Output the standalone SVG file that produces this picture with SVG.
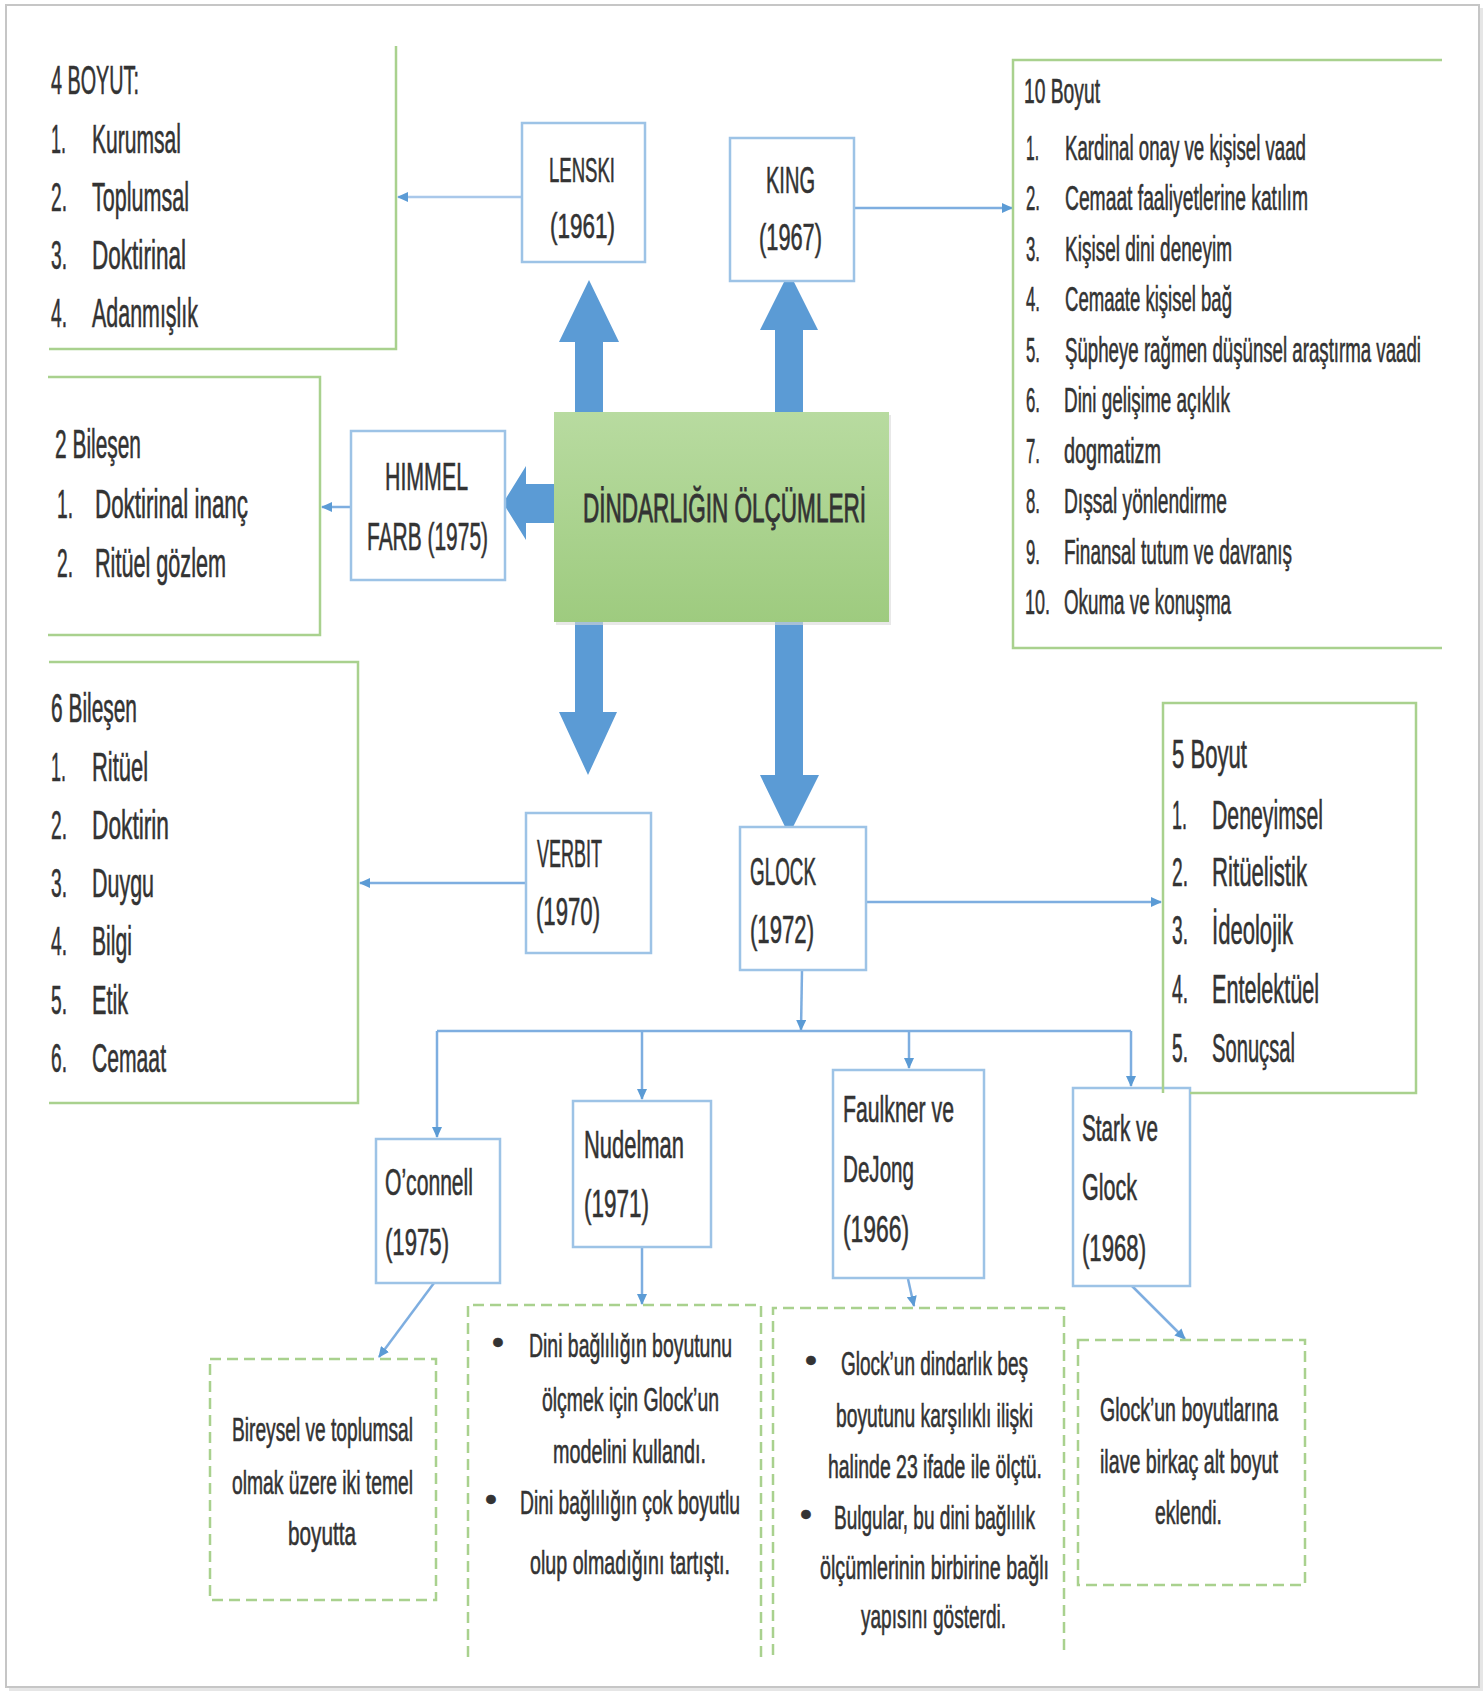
<svg xmlns="http://www.w3.org/2000/svg" width="1484" height="1692" viewBox="0 0 1484 1692">
<defs>
<style>
.tx{font-family:"Liberation Sans",Arial,sans-serif;fill:#333;stroke:#333;stroke-width:0.6}
.f41{font-size:41px}.f40{font-size:40px}.f38{font-size:38px}.f37{font-size:37px}.f36{font-size:36px}.f35{font-size:35px}.f34{font-size:34px}
.node{fill:#fff;stroke:#9dc3e6;stroke-width:2.5}
.open{fill:none;stroke:#a9d18e;stroke-width:2.5}
.dash{fill:none;stroke:#a9d18e;stroke-width:2.5;stroke-dasharray:11 6}
.conn{fill:none;stroke:#7eaee0;stroke-width:2.5;marker-end:url(#ah)}
.block{fill:#5b9bd5}
</style>
<marker id="ah" markerUnits="userSpaceOnUse" markerWidth="12" markerHeight="10" refX="10" refY="5" orient="auto">
<path d="M0,0 L11,5 L0,10 z" fill="#5b9bd5"/>
</marker>
<linearGradient id="gr" x1="0" y1="0" x2="0" y2="1">
<stop offset="0" stop-color="#b8dba0"/>
<stop offset="1" stop-color="#9ecb7f"/>
</linearGradient>
</defs>

<!-- page -->
<rect width="1484" height="1692" fill="#fff"/>
<rect x="9" y="8" width="1474" height="1683" fill="#e6e6e6"/>
<rect x="6" y="5" width="1473" height="1682" fill="#fff" stroke="#c6c6c6" stroke-width="2"/>

<!-- thick block arrows from the central box -->
<g id="block-arrows">
<polygon class="block" points="589,280 619,342 603,342 603,414 575,414 575,342 559,342"/>
<polygon class="block" points="789,272 818,330 803,330 803,414 775,414 775,330 760,330"/>
<polygon class="block" points="503,503 526,466 526,484 556,484 556,523 526,523 526,540"/>
<polygon class="block" points="588,775 617,712 603,712 603,619 575,619 575,712 559,712"/>
<polygon class="block" points="789,835 819,775 803,775 803,619 775,619 775,775 760,775"/>
</g>

<!-- connectors -->
<g id="connectors">
<line class="conn" x1="522" y1="197" x2="398" y2="197" stroke-width="3.5" style="stroke:#a9c8ea"/>
<line class="conn" x1="854" y1="208" x2="1012" y2="208"/>
<line class="conn" x1="351" y1="507" x2="322" y2="507"/>
<line class="conn" x1="526" y1="883" x2="360" y2="883"/>
<line class="conn" x1="866" y1="902" x2="1161" y2="902"/>
<line class="conn" x1="802" y1="970" x2="801" y2="1030"/>
<line fill="none" stroke="#7eaee0" stroke-width="2.5" x1="437" y1="1031" x2="1131" y2="1031"/>
<line class="conn" x1="437" y1="1031" x2="437" y2="1137"/>
<line class="conn" x1="642" y1="1031" x2="642" y2="1099"/>
<line class="conn" x1="909" y1="1031" x2="909" y2="1068"/>
<line class="conn" x1="1131" y1="1031" x2="1131" y2="1086"/>
<line class="conn" x1="434" y1="1283" x2="379" y2="1357"/>
<line class="conn" x1="642" y1="1247" x2="642" y2="1304"/>
<line class="conn" x1="908" y1="1279" x2="914" y2="1306"/>
<line class="conn" x1="1132" y1="1286" x2="1185" y2="1339"/>
</g>

<!-- central node -->
<g id="dindarlik">
<rect x="556" y="415" width="335" height="210" fill="#d9d9d9" opacity="0.6"/>
<rect x="554" y="412" width="335" height="210" fill="url(#gr)"/>
<text class="tx f40" x="583" y="522" textLength="283" lengthAdjust="spacingAndGlyphs" style="stroke-width:0.9">DİNDARLIĞIN ÖLÇÜMLERİ</text>
</g>

<!-- 4 BOYUT -->
<g id="boyut4" class="tx f41">
<path class="open" d="M49,349 H396 V46"/>
<text x="51" y="94" textLength="88" lengthAdjust="spacingAndGlyphs">4 BOYUT:</text>
<text y="153"><tspan x="51" textLength="15" lengthAdjust="spacingAndGlyphs">1.</tspan><tspan x="92" textLength="89" lengthAdjust="spacingAndGlyphs">Kurumsal</tspan></text>
<text y="211"><tspan x="51" textLength="16" lengthAdjust="spacingAndGlyphs">2.</tspan><tspan x="92" textLength="97" lengthAdjust="spacingAndGlyphs">Toplumsal</tspan></text>
<text y="269"><tspan x="51" textLength="16" lengthAdjust="spacingAndGlyphs">3.</tspan><tspan x="92" textLength="94" lengthAdjust="spacingAndGlyphs">Doktirinal</tspan></text>
<text y="327"><tspan x="51" textLength="16" lengthAdjust="spacingAndGlyphs">4.</tspan><tspan x="92" textLength="106" lengthAdjust="spacingAndGlyphs">Adanmışlık</tspan></text>
</g>

<!-- LENSKI -->
<g id="lenski" class="tx f35">
<rect class="node" x="522" y="123" width="123" height="139"/>
<text x="549" y="182" textLength="66" lengthAdjust="spacingAndGlyphs">LENSKI</text>
<text x="550" y="238" textLength="65" lengthAdjust="spacingAndGlyphs">(1961)</text>
</g>

<!-- KING -->
<g id="king" class="tx f36">
<rect class="node" x="730" y="138" width="124" height="143"/>
<text x="766" y="193" textLength="49" lengthAdjust="spacingAndGlyphs">KING</text>
<text x="759" y="250" textLength="63" lengthAdjust="spacingAndGlyphs">(1967)</text>
</g>

<!-- 10 Boyut -->
<g id="boyut10" class="tx f35">
<path class="open" d="M1442,60 H1013 V648 H1442"/>
<text x="1024" y="103" textLength="76" lengthAdjust="spacingAndGlyphs">10 Boyut</text>
<text y="160"><tspan x="1026" textLength="13" lengthAdjust="spacingAndGlyphs">1.</tspan><tspan x="1065" textLength="241" lengthAdjust="spacingAndGlyphs">Kardinal onay ve kişisel vaad</tspan></text>
<text y="210"><tspan x="1026" textLength="14" lengthAdjust="spacingAndGlyphs">2.</tspan><tspan x="1065" textLength="243" lengthAdjust="spacingAndGlyphs">Cemaat faaliyetlerine katılım</tspan></text>
<text y="261"><tspan x="1026" textLength="14" lengthAdjust="spacingAndGlyphs">3.</tspan><tspan x="1065" textLength="167" lengthAdjust="spacingAndGlyphs">Kişisel dini deneyim</tspan></text>
<text y="311"><tspan x="1026" textLength="14" lengthAdjust="spacingAndGlyphs">4.</tspan><tspan x="1065" textLength="167" lengthAdjust="spacingAndGlyphs">Cemaate kişisel bağ</tspan></text>
<text y="362"><tspan x="1026" textLength="14" lengthAdjust="spacingAndGlyphs">5.</tspan><tspan x="1065" textLength="356" lengthAdjust="spacingAndGlyphs">Şüpheye rağmen düşünsel araştırma vaadi</tspan></text>
<text y="412"><tspan x="1026" textLength="14" lengthAdjust="spacingAndGlyphs">6.</tspan><tspan x="1064" textLength="166" lengthAdjust="spacingAndGlyphs">Dini gelişime açıklık</tspan></text>
<text y="463"><tspan x="1026" textLength="14" lengthAdjust="spacingAndGlyphs">7.</tspan><tspan x="1064" textLength="97" lengthAdjust="spacingAndGlyphs">dogmatizm</tspan></text>
<text y="513"><tspan x="1026" textLength="14" lengthAdjust="spacingAndGlyphs">8.</tspan><tspan x="1064" textLength="163" lengthAdjust="spacingAndGlyphs">Dışsal yönlendirme</tspan></text>
<text y="564"><tspan x="1026" textLength="14" lengthAdjust="spacingAndGlyphs">9.</tspan><tspan x="1064" textLength="228" lengthAdjust="spacingAndGlyphs">Finansal tutum ve davranış</tspan></text>
<text y="614"><tspan x="1025" textLength="25" lengthAdjust="spacingAndGlyphs">10.</tspan><tspan x="1064" textLength="167" lengthAdjust="spacingAndGlyphs">Okuma ve konuşma</tspan></text>
</g>

<!-- HIMMELFARB -->
<g id="himmelfarb" class="tx f38">
<rect class="node" x="351" y="431" width="154" height="149"/>
<text x="385" y="490" textLength="83" lengthAdjust="spacingAndGlyphs">HIMMEL</text>
<text x="367" y="550" textLength="121" lengthAdjust="spacingAndGlyphs">FARB (1975)</text>
</g>

<!-- 2 Bileşen -->
<g id="bilesen2" class="tx f40">
<path class="open" d="M48,377 H320 V635 H48"/>
<text x="55" y="458" textLength="86" lengthAdjust="spacingAndGlyphs">2 Bileşen</text>
<text y="518"><tspan x="57" textLength="16" lengthAdjust="spacingAndGlyphs">1.</tspan><tspan x="95" textLength="153" lengthAdjust="spacingAndGlyphs">Doktirinal inanç</tspan></text>
<text y="577"><tspan x="57" textLength="16" lengthAdjust="spacingAndGlyphs">2.</tspan><tspan x="95" textLength="131" lengthAdjust="spacingAndGlyphs">Ritüel gözlem</tspan></text>
</g>

<!-- 6 Bileşen -->
<g id="bilesen6" class="tx f40">
<path class="open" d="M49,662 H358 V1103 H49"/>
<text x="51" y="722" textLength="86" lengthAdjust="spacingAndGlyphs">6 Bileşen</text>
<text y="781"><tspan x="51" textLength="15" lengthAdjust="spacingAndGlyphs">1.</tspan><tspan x="92" textLength="56" lengthAdjust="spacingAndGlyphs">Ritüel</tspan></text>
<text y="839"><tspan x="51" textLength="16" lengthAdjust="spacingAndGlyphs">2.</tspan><tspan x="92" textLength="77" lengthAdjust="spacingAndGlyphs">Doktirin</tspan></text>
<text y="897"><tspan x="51" textLength="16" lengthAdjust="spacingAndGlyphs">3.</tspan><tspan x="92" textLength="62" lengthAdjust="spacingAndGlyphs">Duygu</tspan></text>
<text y="955"><tspan x="51" textLength="16" lengthAdjust="spacingAndGlyphs">4.</tspan><tspan x="92" textLength="40" lengthAdjust="spacingAndGlyphs">Bilgi</tspan></text>
<text y="1014"><tspan x="51" textLength="16" lengthAdjust="spacingAndGlyphs">5.</tspan><tspan x="92" textLength="36" lengthAdjust="spacingAndGlyphs">Etik</tspan></text>
<text y="1072"><tspan x="51" textLength="16" lengthAdjust="spacingAndGlyphs">6.</tspan><tspan x="92" textLength="74" lengthAdjust="spacingAndGlyphs">Cemaat</tspan></text>
</g>

<!-- VERBIT -->
<g id="verbit" class="tx f38">
<rect class="node" x="526" y="813" width="125" height="140"/>
<text x="537" y="867" textLength="65" lengthAdjust="spacingAndGlyphs">VERBIT</text>
<text x="536" y="925" textLength="64" lengthAdjust="spacingAndGlyphs">(1970)</text>
</g>

<!-- GLOCK -->
<g id="glock" class="tx f38">
<rect class="node" x="740" y="827" width="126" height="143"/>
<text x="750" y="885" textLength="66" lengthAdjust="spacingAndGlyphs">GLOCK</text>
<text x="750" y="943" textLength="64" lengthAdjust="spacingAndGlyphs">(1972)</text>
</g>

<!-- O'connell -->
<g id="oconnell" class="tx f37">
<rect class="node" x="376" y="1139" width="124" height="144"/>
<text x="385" y="1195" textLength="88" lengthAdjust="spacingAndGlyphs">O’connell</text>
<text x="385" y="1255" textLength="64" lengthAdjust="spacingAndGlyphs">(1975)</text>
</g>

<!-- Nudelman -->
<g id="nudelman" class="tx f38">
<rect class="node" x="573" y="1101" width="138" height="146"/>
<text x="584" y="1158" textLength="100" lengthAdjust="spacingAndGlyphs">Nudelman</text>
<text x="584" y="1217" textLength="65" lengthAdjust="spacingAndGlyphs">(1971)</text>
</g>

<!-- Faulkner ve DeJong -->
<g id="faulkner" class="tx f37">
<rect class="node" x="833" y="1070" width="151" height="208"/>
<text x="843" y="1122" textLength="111" lengthAdjust="spacingAndGlyphs">Faulkner ve</text>
<text x="843" y="1182" textLength="71" lengthAdjust="spacingAndGlyphs">DeJong</text>
<text x="843" y="1242" textLength="66" lengthAdjust="spacingAndGlyphs">(1966)</text>
</g>

<!-- Stark ve Glock -->
<g id="stark" class="tx f37">
<rect class="node" x="1073" y="1088" width="117" height="198"/>
<text x="1082" y="1141" textLength="76" lengthAdjust="spacingAndGlyphs">Stark ve</text>
<text x="1082" y="1200" textLength="55" lengthAdjust="spacingAndGlyphs">Glock</text>
<text x="1082" y="1261" textLength="64" lengthAdjust="spacingAndGlyphs">(1968)</text>
</g>

<!-- 5 Boyut -->
<g id="boyut5" class="tx f40">
<path class="open" d="M1163,1093 V703 H1416 V1093 H1190"/>
<text x="1172" y="768" textLength="75" lengthAdjust="spacingAndGlyphs">5 Boyut</text>
<text y="829"><tspan x="1172" textLength="15" lengthAdjust="spacingAndGlyphs">1.</tspan><tspan x="1212" textLength="111" lengthAdjust="spacingAndGlyphs">Deneyimsel</tspan></text>
<text y="886"><tspan x="1172" textLength="16" lengthAdjust="spacingAndGlyphs">2.</tspan><tspan x="1212" textLength="95" lengthAdjust="spacingAndGlyphs">Ritüelistik</tspan></text>
<text y="944"><tspan x="1172" textLength="16" lengthAdjust="spacingAndGlyphs">3.</tspan><tspan x="1212" textLength="81" lengthAdjust="spacingAndGlyphs">İdeolojik</tspan></text>
<text y="1003"><tspan x="1172" textLength="16" lengthAdjust="spacingAndGlyphs">4.</tspan><tspan x="1212" textLength="107" lengthAdjust="spacingAndGlyphs">Entelektüel</tspan></text>
<text y="1062"><tspan x="1172" textLength="16" lengthAdjust="spacingAndGlyphs">5.</tspan><tspan x="1212" textLength="83" lengthAdjust="spacingAndGlyphs">Sonuçsal</tspan></text>
</g>

<!-- note: O'connell -->
<g id="note-oconnell" class="tx f34">
<rect class="dash" x="210" y="1359" width="226" height="241"/>
<text x="232" y="1441" textLength="181" lengthAdjust="spacingAndGlyphs">Bireysel ve toplumsal</text>
<text x="232" y="1494" textLength="181" lengthAdjust="spacingAndGlyphs">olmak üzere iki temel</text>
<text x="288" y="1545" textLength="68" lengthAdjust="spacingAndGlyphs">boyutta</text>
</g>

<!-- note: Nudelman -->
<g id="note-nudelman" class="tx f34">
<path class="dash" d="M468,1657 V1305 H761 V1657"/>
<text y="1357"><tspan x="492" dy="-3">•</tspan><tspan x="529" dy="3" textLength="203" lengthAdjust="spacingAndGlyphs">Dini bağlılığın boyutunu</tspan></text>
<text x="542" y="1411" textLength="177" lengthAdjust="spacingAndGlyphs">ölçmek için Glock’un</text>
<text x="553" y="1463" textLength="153" lengthAdjust="spacingAndGlyphs">modelini kullandı.</text>
<text y="1514"><tspan x="485" dy="-3">•</tspan><tspan x="520" dy="3" textLength="220" lengthAdjust="spacingAndGlyphs">Dini bağlılığın çok boyutlu</tspan></text>
<text x="530" y="1574" textLength="200" lengthAdjust="spacingAndGlyphs">olup olmadığını tartıştı.</text>
</g>

<!-- note: Faulkner ve DeJong -->
<g id="note-faulkner" class="tx f34">
<path class="dash" d="M773,1655 V1308 H1064 V1655"/>
<text y="1375"><tspan x="805" dy="-3">•</tspan><tspan x="841" dy="3" textLength="187" lengthAdjust="spacingAndGlyphs">Glock’un dindarlık beş</tspan></text>
<text x="836" y="1427" textLength="197" lengthAdjust="spacingAndGlyphs">boyutunu karşılıklı ilişki</text>
<text x="828" y="1478" textLength="214" lengthAdjust="spacingAndGlyphs">halinde 23 ifade ile ölçtü.</text>
<text y="1529"><tspan x="800" dy="-3">•</tspan><tspan x="834" dy="3" textLength="201" lengthAdjust="spacingAndGlyphs">Bulgular, bu dini bağlılık</tspan></text>
<text x="820" y="1579" textLength="229" lengthAdjust="spacingAndGlyphs">ölçümlerinin birbirine bağlı</text>
<text x="861" y="1628" textLength="145" lengthAdjust="spacingAndGlyphs">yapısını gösterdi.</text>
</g>

<!-- note: Stark ve Glock -->
<g id="note-stark" class="tx f34">
<rect class="dash" x="1078" y="1340" width="227" height="245"/>
<text x="1100" y="1421" textLength="178" lengthAdjust="spacingAndGlyphs">Glock’un boyutlarına</text>
<text x="1100" y="1473" textLength="178" lengthAdjust="spacingAndGlyphs">ilave birkaç alt boyut</text>
<text x="1155" y="1524" textLength="67" lengthAdjust="spacingAndGlyphs">eklendi.</text>
</g>
</svg>
